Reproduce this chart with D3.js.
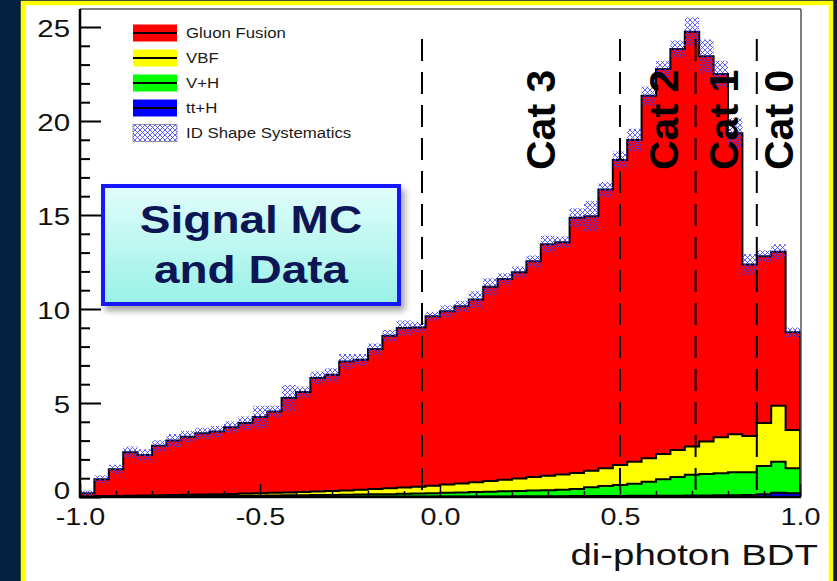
<!DOCTYPE html>
<html><head><meta charset="utf-8">
<script src="https://cdn.jsdelivr.net/npm/d3@7"></script>
<style>
html,body{margin:0;padding:0;background:#06213f;overflow:hidden;}
svg{display:block;font-family:"Liberation Sans",Arial,Helvetica,sans-serif;}
</style></head><body>
<svg id="chart" width="837" height="581"></svg>
<script>
// ---------------- data ----------------
const binLow = -1.0, binWidth = 0.04, nBins = 50;
const ggH = [0.18,0.91,1.42,2.31,2.16,2.63,2.90,3.09,3.26,3.33,
             3.55,3.75,4.05,4.33,5.02,5.32,6.04,6.18,6.86,6.92,
             7.45,8.12,8.49,8.47,9.01,9.22,9.42,9.72,10.33,10.68,
             10.97,11.48,12.32,12.35,13.58,13.54,14.83,16.23,17.11,19.28,
             20.47,21.33,22.07,20.49,19.32,16.01,9.12,8.88,8.19,5.19];
const vbf = [0.01,0.02,0.03,0.04,0.05,0.05,0.06,0.07,0.08,0.09,
             0.10,0.11,0.13,0.14,0.15,0.17,0.19,0.21,0.23,0.25,
             0.28,0.31,0.33,0.37,0.40,0.44,0.48,0.52,0.57,0.62,
             0.67,0.72,0.77,0.82,0.86,0.88,0.95,1.06,1.18,1.25,
             1.35,1.44,1.50,1.73,1.92,2.02,1.93,2.28,2.97,2.04];
const vh  = [0.01,0.02,0.02,0.03,0.03,0.04,0.04,0.04,0.04,0.05,
             0.05,0.06,0.06,0.07,0.08,0.08,0.09,0.10,0.11,0.11,
             0.12,0.13,0.15,0.16,0.18,0.19,0.21,0.23,0.25,0.27,
             0.28,0.30,0.32,0.34,0.37,0.47,0.53,0.59,0.64,0.75,
             0.87,0.99,1.10,1.14,1.17,1.23,1.22,1.50,1.66,1.33];
const tth = [0,0,0,0,0,0,0,0.01,0.01,0.01,
             0.01,0.01,0.01,0.01,0.01,0.01,0.01,0.01,0.01,0.02,
             0.02,0.02,0.02,0.02,0.02,0.03,0.03,0.03,0.03,0.03,
             0.04,0.04,0.04,0.04,0.05,0.05,0.05,0.05,0.06,0.06,
             0.07,0.07,0.08,0.08,0.09,0.09,0.10,0.15,0.22,0.20];
const systErr = [0.15,0.2,0.25,0.3,0.3,0.3,0.35,0.3,0.3,0.3,
                 0.3,0.35,0.6,0.3,0.7,0.3,0.35,0.35,0.4,0.3,
                 0.3,0.3,0.4,0.3,0.25,0.3,0.3,0.45,0.45,0.3,
                 0.3,0.3,0.45,0.3,0.5,0.8,0.4,0.45,0.6,0.5,
                 0.45,0.45,0.75,0.9,0.7,0.8,0.55,0.3,0.4,0.25];
const xTicks = [-1.0,-0.5,0.0,0.5,1.0];
const xTickLabels = ["-1.0","-0.5","0.0","0.5","1.0"];
const yTicks = [0,5,10,15,20,25];
const yTickLabels = ["0","5","10","15","20","25"];
const catBoundaries = [-0.05,0.50,0.71,0.88];
const catNames = ["Cat 3","Cat 2","Cat 1","Cat 0"];
const catLabelX = [0.319,0.661,0.828,0.981];
const legendNames = ["Gluon Fusion","VBF","V+H","tt+H","ID Shape Systematics"];
const processKeys = ["tth","vh","vbf","ggh"];
const xTitle = "di-photon BDT";
const boxLines = ["Signal MC","and Data"];

// ---------------- style ----------------
const colors = {ggh:"#ff0000", vbf:"#ffff00", vh:"#00ff00", tth:"#0000ff"};
const W = 837, H = 581;
const svg = d3.select("#chart");
const x = d3.scaleLinear().domain([-1,1]).range([80,800]);
const y = d3.scaleLinear().domain([0,25]).range([497,27]);

function stretch(sel,k){
  sel.each(function(){
    const w=this.getComputedTextLength();
    this.setAttribute("textLength", w*k);
    this.setAttribute("lengthAdjust","spacingAndGlyphs");
  });
}

// defs
const defs = svg.append("defs");
const pat = defs.append("pattern").attr("id","hatch").attr("patternUnits","userSpaceOnUse")
  .attr("width",5).attr("height",5);
pat.append("path").attr("d","M0,0L5,5M5,0L0,5").attr("stroke","#3a3aff").attr("stroke-width",0.9).attr("stroke-opacity",0.9);
const grad = defs.append("linearGradient").attr("id","boxgrad").attr("x1",0).attr("y1",0).attr("x2",0).attr("y2",1);
grad.append("stop").attr("offset","0%").attr("stop-color","#e2fdfb");
grad.append("stop").attr("offset","100%").attr("stop-color","#98f1e6");
const flt = defs.append("filter").attr("id","shadow").attr("x","-10%").attr("y","-10%").attr("width","130%").attr("height","140%");
flt.append("feDropShadow").attr("dx",4).attr("dy",5).attr("stdDeviation",3).attr("flood-color","#000").attr("flood-opacity",0.35);

// background + frame
svg.append("rect").attr("width",W).attr("height",H).attr("fill","#06213f");
svg.append("rect").attr("x",23).attr("y",3).attr("width",808).attr("height",H+10)
  .attr("fill","#ffffff").attr("stroke","#ffff00").attr("stroke-width",4.5);

// ---------------- histogram ----------------
const rows = d3.range(nBins).map(i=>({i, ggh:ggH[i], vbf:vbf[i], vh:vh[i], tth:tth[i]}));
const stacked = d3.stack().keys(processKeys)(rows);
const edge = i => binLow + i*binWidth;

const area = d3.area().curve(d3.curveStepAfter)
  .x(d=>x(d.x)).y0(d=>y(d.y0)).y1(d=>y(d.y1));
const line = d3.line().curve(d3.curveStepAfter).x(d=>x(d.x)).y(d=>y(d.y));

const gHist = svg.append("g");
stacked.slice().reverse().forEach(layer=>{
  const pts = layer.map((d,i)=>({x:edge(i), y0:d[0], y1:d[1]}));
  const last = layer[layer.length-1];
  pts.push({x:edge(nBins), y0:last[0], y1:last[1]});
  gHist.append("path").attr("d",area(pts)).attr("fill",colors[layer.key]).attr("stroke","none");
});
stacked.slice().reverse().forEach(layer=>{
  const pts = [{x:edge(0),y:0}].concat(layer.map((d,i)=>({x:edge(i),y:d[1]})));
  pts.push({x:edge(nBins), y:layer[layer.length-1][1]});
  pts.push({x:edge(nBins), y:0});
  gHist.append("path").attr("d",line(pts)).attr("fill","none").attr("stroke","#000").attr("stroke-width",2);
});

// systematics band
const topLayer = stacked[stacked.length-1];
const band = topLayer.map((d,i)=>({x:edge(i), y0:d[1]-systErr[i], y1:d[1]+systErr[i]}));
band.push({x:edge(nBins), y0:band[nBins-1].y0, y1:band[nBins-1].y1});
gHist.append("path").attr("d",area(band)).attr("fill","url(#hatch)");

// category dashed lines
svg.append("g").selectAll("line").data(catBoundaries).join("line")
  .attr("x1",d=>x(d)).attr("x2",d=>x(d)).attr("y1",39).attr("y2",497)
  .attr("stroke","#000").attr("stroke-width",2).attr("stroke-dasharray","22,11");

// category labels
svg.append("g").selectAll("text").data(catNames).join("text")
  .attr("transform",(d,i)=>`translate(${x(catLabelX[i])},170) rotate(-90)`)
  .attr("text-anchor","start").attr("font-weight","bold").attr("font-size",41)
  .attr("fill","#000").text(d=>d);

// ---------------- axes ----------------
svg.append("line").attr("x1",80).attr("x2",801).attr("y1",9).attr("y2",9).attr("stroke","#555").attr("stroke-width",1.5);
svg.append("line").attr("x1",801).attr("x2",801).attr("y1",9).attr("y2",497).attr("stroke","#555").attr("stroke-width",1.5);

const yMinor = d3.range(0,26).filter(v=>v%5!==0);
const gyMinor = svg.append("g").attr("transform","translate(80,0)")
  .call(d3.axisLeft(y).tickValues(yMinor).tickSizeInner(-10).tickSizeOuter(0).tickFormat(""));
gyMinor.select(".domain").remove();
gyMinor.selectAll("line").attr("stroke","#000").attr("stroke-width",2);

const gy = svg.append("g").attr("transform","translate(80,0)")
  .call(d3.axisLeft(y).tickValues(yTicks).tickSizeInner(-21).tickSizeOuter(0).tickPadding(10)
    .tickFormat((d,i)=>yTickLabels[i]));
gy.select(".domain").remove();
gy.selectAll("line").attr("stroke","#000").attr("stroke-width",2);
gy.selectAll("text").attr("font-size",23).attr("fill","#111").attr("font-family","'Liberation Sans',Arial,sans-serif")
  .attr("dy",(d)=> d===0 ? "0.05em" : "0.42em");
stretch(gy.selectAll("text"),1.28);

const xMinor = d3.range(-10,11).map(v=>v/10).filter(v=>Math.abs(v*2-Math.round(v*2))>1e-6);
const gxMinor = svg.append("g").attr("transform","translate(0,497)")
  .call(d3.axisBottom(x).tickValues(xMinor).tickSizeInner(-6).tickSizeOuter(0).tickFormat(""));
gxMinor.select(".domain").remove();
gxMinor.selectAll("line").attr("stroke","#000").attr("stroke-width",1.5);

const gx = svg.append("g").attr("transform","translate(0,497)")
  .call(d3.axisBottom(x).tickValues(xTicks).tickSizeInner(-13).tickSizeOuter(0).tickPadding(12)
    .tickFormat((d,i)=>xTickLabels[i]));
gx.select(".domain").remove();
gx.selectAll("line").attr("stroke","#000").attr("stroke-width",1.5);
gx.selectAll("text").attr("font-size",23).attr("fill","#111").attr("font-family","'Liberation Sans',Arial,sans-serif");
stretch(gx.selectAll("text"),1.25);

svg.append("line").attr("x1",80).attr("x2",80).attr("y1",9).attr("y2",498).attr("stroke","#000").attr("stroke-width",2.5);
svg.append("line").attr("x1",79).attr("x2",801).attr("y1",497).attr("y2",497).attr("stroke","#000").attr("stroke-width",2.5);

const xt = svg.append("text").attr("x",818).attr("y",565).attr("text-anchor","end")
  .attr("font-size",30).attr("fill","#111").text(xTitle);
stretch(xt,1.28);

// ---------------- legend ----------------
const legColors = [colors.ggh, colors.vbf, colors.vh, colors.tth, null];
const gl = svg.append("g");
legendNames.forEach((name,i)=>{
  const cy = 33 + i*25;
  if (legColors[i]) {
    gl.append("rect").attr("x",133).attr("y",cy-8.5).attr("width",44).attr("height",17).attr("fill",legColors[i]);
    gl.append("line").attr("x1",133).attr("x2",177).attr("y1",cy).attr("y2",cy).attr("stroke","#000").attr("stroke-width",2);
  } else {
    gl.append("rect").attr("x",133).attr("y",cy-8.5).attr("width",44).attr("height",17)
      .attr("fill","#fff").attr("stroke","#888").attr("stroke-width",0.8);
    gl.append("rect").attr("x",133).attr("y",cy-8.5).attr("width",44).attr("height",17).attr("fill","url(#hatch)");
  }
  const t = gl.append("text").attr("x",186).attr("y",cy+5).attr("font-size",14).attr("fill","#1a1a1a").text(name);
  stretch(t,1.2);
});

// ---------------- label box ----------------
const gb = svg.append("g");
gb.append("rect").attr("x",103).attr("y",186).attr("width",296).attr("height",118)
  .attr("fill","url(#boxgrad)").attr("stroke","#1414ff").attr("stroke-width",4).attr("filter","url(#shadow)");
boxLines.forEach((s,i)=>{
  const t = gb.append("text").attr("x",251).attr("y",233+i*50).attr("text-anchor","middle")
    .attr("font-weight","bold").attr("font-size",38).attr("fill","#0c1655").text(s);
  stretch(t,1.21);
});
</script>
</body></html>
